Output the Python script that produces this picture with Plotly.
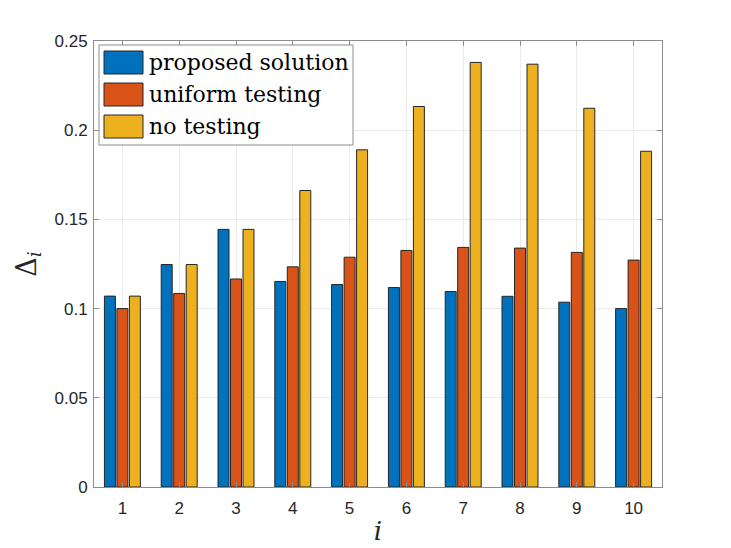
import plotly.graph_objects as go

categories = [1, 2, 3, 4, 5, 6, 7, 8, 9, 10]
proposed = [0.107, 0.1247, 0.1444, 0.1152, 0.1135, 0.1118, 0.1096, 0.1069, 0.1036, 0.1000]
uniform = [0.1000, 0.1085, 0.1166, 0.1234, 0.1288, 0.1326, 0.1343, 0.1339, 0.1315, 0.1272]
no_testing = [0.107, 0.1247, 0.1444, 0.1662, 0.1890, 0.2133, 0.2380, 0.2370, 0.2123, 0.1882]
series_names = ["proposed solution", "uniform testing", "no testing"]
colors = ["#0072BD", "#D95319", "#EDB120"]
y_ticks = [0, 0.05, 0.1, 0.15, 0.2, 0.25]
y_tick_labels = ["0", "0.05", "0.1", "0.15", "0.2", "0.25"]

# page has an 8px body margin; compensate
OFF = 8
W, H = 731 - OFF, 548 - OFF
L, T = 94 - OFF, 41 - OFF
PW, PH = 568, 446
R, B = W - L - PW, H - T - PH

def px(x):
    return (x - OFF - L) / PW

def py(y):
    return 1 - (y - OFF - T) / PH

fig = go.Figure()
for name, vals, c in zip(series_names, [proposed, uniform, no_testing], colors):
    fig.add_trace(go.Bar(x=categories, y=vals, name=name, marker_color=c,
                         marker_line_color="#262626", marker_line_width=1,
                         showlegend=False))

axis_common = dict(showline=True, linecolor="#8c8c8c", linewidth=1, mirror="allticks",
                   ticks="inside", ticklen=5, tickcolor="#8c8c8c",
                   showgrid=True, gridcolor="#ebebeb", gridwidth=1, zeroline=False,
                   tickfont=dict(family="Liberation Sans, Arial", size=17, color="#262626"))

fig.update_layout(
    width=W, height=H,
    margin=dict(l=L, r=R, t=T, b=B, autoexpand=False),
    paper_bgcolor="white", plot_bgcolor="white",
    barmode="group", bargap=0.34, bargroupgap=0.12,
    xaxis=dict(range=[0.5, 10.5], tickvals=categories, ticktext=[str(c) for c in categories],
               ticklabelstandoff=6,
               title=dict(text="<i>i</i>", font=dict(family="DejaVu Serif", size=26, color="#262626"),
                          standoff=4),
               **axis_common),
    yaxis=dict(range=[0, 0.25], tickvals=y_ticks, ticktext=y_tick_labels,
               ticklabelstandoff=2,
               title=dict(text="Δ<sub><i>i</i></sub>", font=dict(family="DejaVu Serif", size=27, color="#262626"),
                          standoff=10),
               **axis_common),
)

# Custom legend (MATLAB style, large swatches)
fig.add_shape(type="rect", xref="paper", yref="paper",
              x0=px(99), x1=px(353), y0=py(145), y1=py(45),
              line=dict(color="#8c8c8c", width=1), fillcolor="white", layer="above")
row_tops = [51, 83, 115]
for name, c, top in zip(series_names, colors, row_tops):
    fig.add_shape(type="rect", xref="paper", yref="paper",
                  x0=px(104), x1=px(143), y0=py(top + 23), y1=py(top),
                  line=dict(color="#262626", width=1), fillcolor=c, layer="above")
    fig.add_annotation(xref="paper", yref="paper", x=px(147), y=py(top + 11.5),
                       text=name, showarrow=False, xanchor="left", yanchor="middle",
                       font=dict(family="DejaVu Serif", size=22, color="black"))

fig.write_html("out.html")
